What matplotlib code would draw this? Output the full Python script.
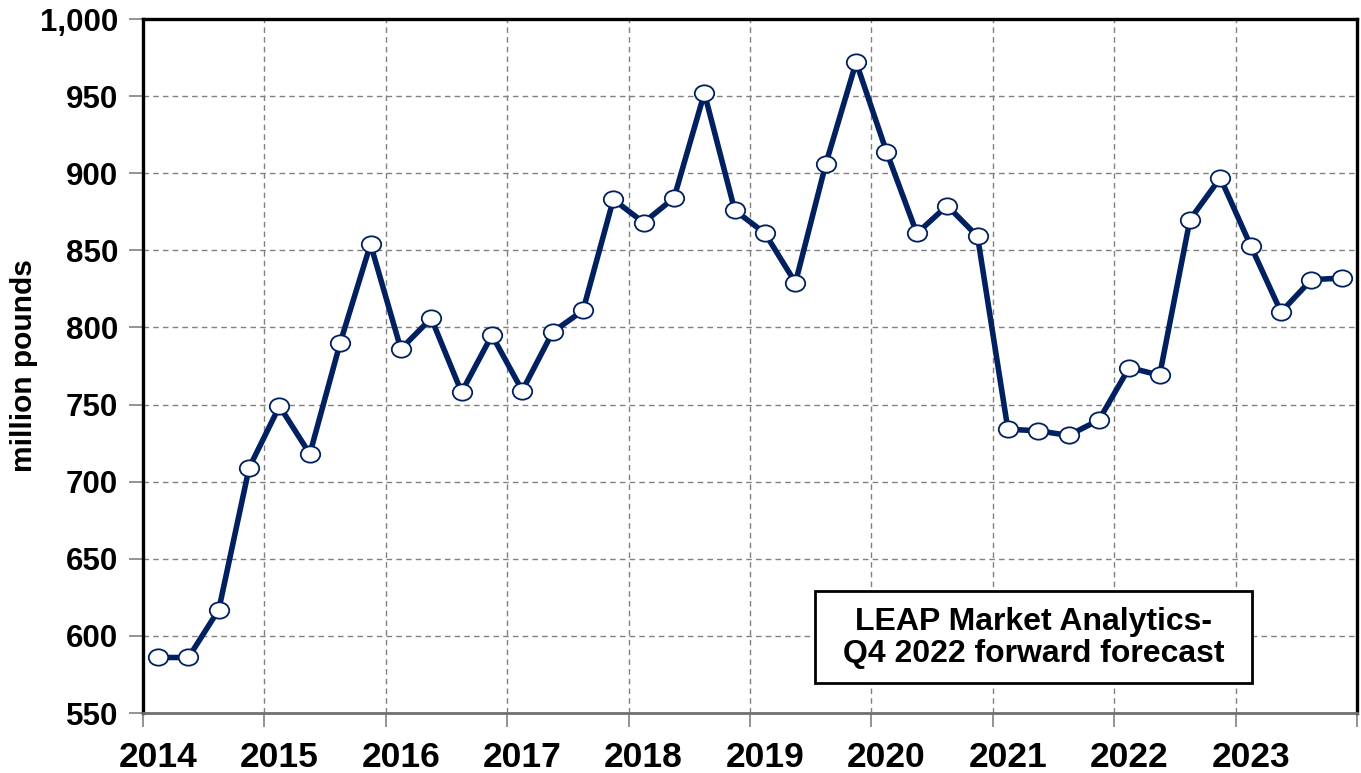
import matplotlib.pyplot as plt
import numpy as np
from matplotlib.path import Path
from matplotlib.patches import Rectangle
from matplotlib.transforms import Affine2D
from matplotlib.ticker import FuncFormatter

# quarterly values, 2014 Q1 .. 2023 Q4 (million pounds)
years = list(range(2014, 2024))
quarter_pos = [0.125, 0.375, 0.625, 0.875]
values = [
    586, 586, 617, 709,
    749, 718, 790, 854,
    786, 806, 758, 795,
    759, 797, 811, 883,
    868, 884, 952, 876,
    861, 829, 906, 972,
    914, 861, 879, 859,
    734, 733, 730, 740,
    774, 769, 870, 897,
    853, 810, 831, 832,
]
y_ticks = [550, 600, 650, 700, 750, 800, 850, 900, 950, 1000]
note = "LEAP Market Analytics-\nQ4 2022 forward forecast"

x = [y + q for y in years for q in quarter_pos]

plt.rcParams['font.family'] = ['Liberation Sans', 'DejaVu Sans']
plt.rcParams['font.weight'] = 'bold'

fig = plt.figure(figsize=(13.61, 7.73), dpi=100)
ax = fig.add_axes([0.105, 0.0776, 0.892, 0.8978])

# slightly flattened circle marker, like the original
ellipse = Path.unit_circle().transformed(Affine2D().scale(1.0, 0.84))

navy = '#002060'
ax.plot(x, values, color=navy, lw=4.0, marker=ellipse, ms=14,
        mfc='white', mec=navy, mew=1.3, zorder=3)

ax.set_xlim(2014, 2024)
ax.set_ylim(550, 1000)
ax.set_yticks(y_ticks)
ax.yaxis.set_major_formatter(FuncFormatter(lambda v, p: f"{int(v):,}"))

# year ticks at boundaries, labels shifted to first quarter
ax.set_xticks(years + [2024])
ax.set_xticklabels([])
ax.set_xticks([y + 0.125 for y in years], minor=True)
ax.set_xticklabels([str(y) for y in years], minor=True)
ax.tick_params(axis='x', which='major', length=10, width=1.2, color='#808080')
ax.tick_params(axis='x', which='minor', length=0, pad=20, labelsize=25.5)
ax.tick_params(axis='y', length=10, width=1.2, color='#808080', labelsize=22.5, pad=8)

ax.grid(True, which='major', color='#808080', ls=(0, (4, 3)), lw=1.0)
ax.set_axisbelow(True)

for s in ['top', 'left', 'right']:
    ax.spines[s].set_color('black')
    ax.spines[s].set_linewidth(2.4)
ax.spines['bottom'].set_color('#707070')
ax.spines['bottom'].set_linewidth(2)

ax.set_ylabel("million pounds", fontsize=21.5, fontweight='bold', labelpad=1)

# annotation box
ax.add_patch(Rectangle((2019.535, 569.5), 3.6, 59.6, fc='white', ec='black',
                       lw=2, zorder=4))
ax.text(2021.335, 598.5, note, ha='center', va='center', fontsize=23,
        fontweight='bold', linespacing=1.1, zorder=5)

fig.savefig('out.png', dpi=100)
